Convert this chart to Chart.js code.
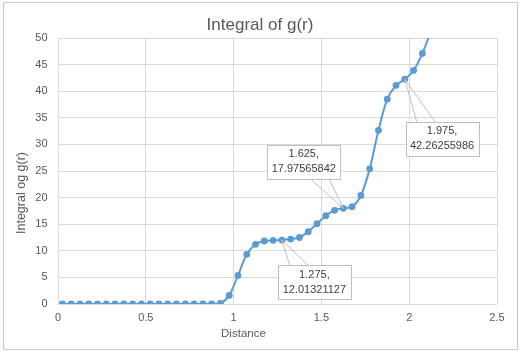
<!DOCTYPE html>
<html><head><meta charset="utf-8">
<script src="https://cdn.jsdelivr.net/npm/chart.js@4"></script>
<style>html,body{margin:0;padding:0;background:#fff;overflow:hidden}canvas{display:block}</style>
</head><body>
<canvas id="c" width="521" height="356"></canvas>
<script>
// ---- data ----
const distance = [0.025,0.075,0.125,0.175,0.225,0.275,0.325,0.375,0.425,0.475,0.525,0.575,0.625,0.675,0.725,0.775,0.825,0.875,0.925,0.975,1.025,1.075,1.125,1.175,1.225,1.275,1.325,1.375,1.425,1.475,1.525,1.575,1.625,1.675,1.725,1.775,1.825,1.875,1.925,1.975,2.025,2.075,2.125,2.175];
const integral = [0,0,0,0,0,0,0,0,0,0,0,0,0,0,0,0,0,0,0.1,1.62,5.38,9.33,11.22,11.85,11.97,12.01321127,12.2,12.5,13.6,15.1,16.6,17.6,17.97565842,18.3,20.4,25.4,32.65,38.5,41.1,42.26255986,43.9,47.1,51.5,57];
const xTicks = [0,0.5,1,1.5,2,2.5];
const yTicks = [0,5,10,15,20,25,30,35,40,45,50];
const labeledDistances = [1.275,1.625,1.975];
const chartTitle = 'Integral of g(r)';
const xTitle = 'Distance';
const yTitle = 'Integral og g(r)';

// ---- callout placement (pixel offsets from the point) ----
const calloutLayout = {
  '1.275': {dx:32.5, dy:42.3, side:'top', base:[-24.5,-6.2]},
  '1.625': {dx:-39.6, dy:-46.7, side:'bottom', base:[6.3,25.3]},
  '1.975': {dx:37.3, dy:59.6, side:'top', base:[-25.3,-7]}
};
const BOX_W = 73, BOX_H = 34;
const FONT = '"Liberation Sans", Arial, sans-serif';

const framePlugin = {
  id:'frame',
  beforeDraw(chart){
    const ctx = chart.ctx;
    ctx.save();
    ctx.fillStyle='#ffffff';
    ctx.fillRect(0,0,chart.width,chart.height);
    ctx.strokeStyle='#c9c9c9';
    ctx.lineWidth=1;
    ctx.strokeRect(3.5,2.5,514,347);
    ctx.restore();
  },
  afterDraw(chart){
    const ctx = chart.ctx;
    ctx.save();
    ctx.fillStyle='#595959';
    ctx.font = '17px '+FONT;
    ctx.textAlign='center';
    ctx.textBaseline='alphabetic';
    ctx.fillText(chartTitle, 260, 29.5);
    ctx.font = '11.6px '+FONT;
    ctx.fillText(xTitle, 243.5, 337);
    ctx.translate(25, 193);
    ctx.rotate(-Math.PI/2);
    ctx.font = '12.5px '+FONT;
    ctx.fillText(yTitle, 0, 0);
    ctx.restore();
  }
};

const calloutPlugin = {
  id:'callouts',
  afterDatasetsDraw(chart){
    const ctx = chart.ctx;
    const xs = chart.scales.x, ys = chart.scales.y;
    ctx.save();
    labeledDistances.forEach(d=>{
      const i = distance.indexOf(d);
      const v = integral[i];
      const px = xs.getPixelForValue(d), py = ys.getPixelForValue(v);
      const L = calloutLayout[String(d)];
      const cx = px + L.dx, cy = py + L.dy;
      const bx = cx - BOX_W/2, by = cy - BOX_H/2;
      const edgeY = L.side==='top' ? by : by + BOX_H;
      ctx.strokeStyle='#bfbfbf';
      ctx.lineWidth=1;
      ctx.beginPath();
      ctx.moveTo(px,py); ctx.lineTo(cx+L.base[0], edgeY);
      ctx.moveTo(px,py); ctx.lineTo(cx+L.base[1], edgeY);
      ctx.stroke();
      ctx.fillStyle='#ffffff';
      ctx.fillRect(Math.round(bx)+0.5, Math.round(by)+0.5, BOX_W, BOX_H);
      ctx.strokeRect(Math.round(bx)+0.5, Math.round(by)+0.5, BOX_W, BOX_H);
      ctx.fillStyle='#404040';
      ctx.font='11px '+FONT;
      ctx.textAlign='center';
      ctx.textBaseline='middle';
      ctx.fillText(d+',', cx, cy-7.5);
      ctx.fillText(String(v), cx, cy+7.5);
    });
    ctx.restore();
  }
};

new Chart(document.getElementById('c'), {
  type:'scatter',
  data:{
    datasets:[{
      data: distance.map((x,i)=>({x:x, y:integral[i]})),
      showLine:true,
      borderColor:'#5B9BD5',
      backgroundColor:'#5B9BD5',
      pointBackgroundColor:'#5B9BD5',
      pointBorderColor:'#5B9BD5',
      pointRadius:3.4,
      pointBorderWidth:0,
      borderWidth:2,
      tension:0.3
    }]
  },
  options:{
    responsive:false,
    animation:false,
    devicePixelRatio:1,
    layout:{padding:{left:0, right:24, top:38, bottom:0}},
    plugins:{legend:{display:false}, tooltip:{enabled:false}, title:{display:false}},
    scales:{
      x:{
        type:'linear', min:0, max:2.5,
        afterFit(s){ s.height = 52; },
        afterBuildTicks(s){ s.ticks = xTicks.map(v=>({value:v})); },
        grid:{color:'#d9d9d9', drawTicks:false, lineWidth:1},
        border:{display:false},
        ticks:{color:'#595959', font:{family:FONT, size:11}, padding:7, maxRotation:0, autoSkip:false, callback:v=>String(v)}
      },
      y:{
        type:'linear', min:0, max:50,
        afterFit(s){ s.width = 58; },
        afterBuildTicks(s){ s.ticks = yTicks.map(v=>({value:v})); },
        grid:{color:'#d9d9d9', drawTicks:false, lineWidth:1},
        border:{display:false},
        ticks:{color:'#595959', font:{family:FONT, size:11}, padding:10.5, autoSkip:false, callback:v=>String(v)}
      }
    }
  },
  plugins:[framePlugin, calloutPlugin]
});
</script>
</body></html>
